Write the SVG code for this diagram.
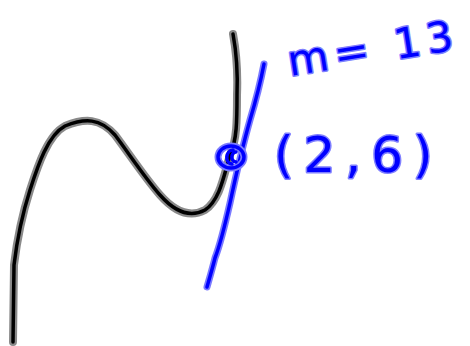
<svg xmlns="http://www.w3.org/2000/svg" width="470" height="346" viewBox="0 0 470 346">
<style>
.halo{fill:none;stroke-linecap:round;stroke-linejoin:round}
.bk-h{stroke:#8a8a8a;stroke-width:8}
.bk{stroke:#000;stroke-width:3.5}
.bl-h{stroke:#7a7aff;stroke-width:7}
.bl{stroke:#0000ff;stroke-width:3.5}
.lbl{font-family:"DejaVu Sans",sans-serif;fill:#0000ff;stroke:#8080ff;stroke-width:3;paint-order:stroke;stroke-linejoin:round}
</style>
<rect width="470" height="346" fill="#fff"/>
<g id="curve">
<path id="cubic" class="halo bk-h" d="M233,34 C236,50 238,70 237,95 C237,120 237,140 230,155 C224,175 220,200 205,210 C190,218 175,212 160,195 C145,178 130,155 115,135 C100,118 85,118 65,126 C48,135 38,165 30,190 C22,215 17,240 14,265 L13,342"/>
<path class="halo bk" d="M233,34 C236,50 238,70 237,95 C237,120 237,140 230,155 C224,175 220,200 205,210 C190,218 175,212 160,195 C145,178 130,155 115,135 C100,118 85,118 65,126 C48,135 38,165 30,190 C22,215 17,240 14,265 L13,342"/>
</g>
<g id="tangent">
<path class="halo bl-h" d="M264,64 C260,85 256,100 250,120 C243,145 236,175 230,203 C225,225 220,245 215,258 C212,270 209,280 207,287"/>
<path class="halo bl" d="M264,64 C260,85 256,100 250,120 C243,145 236,175 230,203 C225,225 220,245 215,258 C212,270 209,280 207,287"/>
</g>
<g id="point">
<ellipse class="halo bl-h" cx="231" cy="157" rx="13" ry="11"/>
<ellipse class="halo bl" cx="231" cy="157" rx="13" ry="11"/>
<path class="halo bl" d="M233,150 C226,150 224,163 232,164 M236,152 C231,152 230,161 236,162"/>
</g>
<g id="labels">
<text class="lbl" x="290" y="76" font-size="42" letter-spacing="6" transform="rotate(-9 290 76)">m= 13</text>
<text class="lbl" x="274" y="172" font-size="50" letter-spacing="10">(2,6)</text>
</g>
</svg>
